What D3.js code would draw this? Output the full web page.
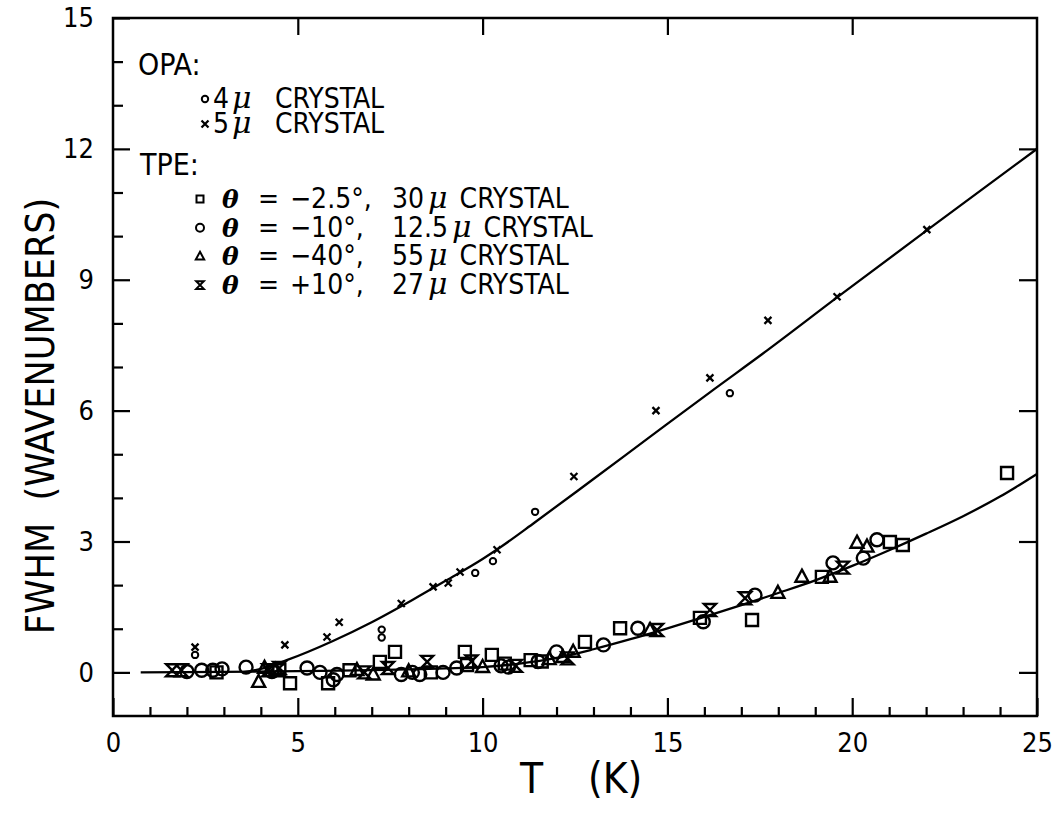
<!DOCTYPE html>
<html><head><meta charset="utf-8">
<script src="https://cdn.jsdelivr.net/npm/d3@7"></script>
<style>
html,body{margin:0;padding:0;background:#fff;}
svg{display:block;}
text{font-family:"Liberation Sans Narrow","DejaVu Sans Condensed","Liberation Sans",sans-serif;fill:#000;}
</style></head>
<body>
<svg id="chart" width="1063" height="817"></svg>
<script>
// ---------------- data ----------------
const xDomain = [0, 25];
const yDomain = [-1, 15];
const xMajorTicks = [0, 5, 10, 15, 20, 25];
const xMinorTicks = [1,2,3,4,6,7,8,9,11,12,13,14,16,17,18,19,21,22,23,24];
const yMajorTicks = [0, 3, 6, 9, 12, 15];
const yMinorTicks = [1,2,4,5,7,8,10,11,13,14];
const xTitleParts = ["T", "(K)"];
const yTitle = "FWHM  (WAVENUMBERS)";

// OPA data
const opa4 = [[2.22,0.40],[7.27,0.98],[7.27,0.80],[9.80,2.28],[10.28,2.55],[11.42,3.68],[16.69,6.40]];
const opa5 = [[2.22,0.58],[4.65,0.63],[5.79,0.81],[6.12,1.15],[7.80,1.58],[8.66,1.96],[9.07,2.05],
              [9.39,2.30],[10.39,2.81],[12.47,4.49],[14.69,6.00],[16.15,6.75],[17.72,8.07],[19.59,8.61],[22.02,10.15]];

// TPE data
const tpeSquare = [[2.80,0.00],[4.50,0.05],[4.79,-0.25],[5.82,-0.25],[6.40,0.05],[7.22,0.24],[7.63,0.47],
                   [8.60,0.00],[9.52,0.47],[9.58,0.17],[10.25,0.40],[10.60,0.20],[11.30,0.28],[11.60,0.25],
                   [12.77,0.70],[13.72,1.01],[15.88,1.25],[17.29,1.20],[19.18,2.19],[21.02,2.99],[21.37,2.92],[24.19,4.57]];
const tpeCircle = [[2.00,0.02],[2.40,0.05],[2.70,0.05],[2.95,0.08],[3.60,0.12],[4.30,0.02],[5.25,0.10],
                   [5.60,0.00],[5.96,-0.17],[6.06,-0.05],[7.80,-0.05],[8.10,0.00],[8.30,-0.05],[8.93,0.00],
                   [9.30,0.10],[10.50,0.15],[10.70,0.12],[11.50,0.25],[12.00,0.47],[13.27,0.63],[14.20,1.01],
                   [15.97,1.16],[17.37,1.77],[19.48,2.51],[20.30,2.62],[20.67,3.04]];
const tpeTriangle = [[3.94,-0.22],[4.10,0.10],[4.40,0.05],[6.60,0.05],[7.04,-0.05],[8.00,0.02],[10.00,0.12],
                     [11.80,0.30],[12.17,0.35],[12.45,0.47],[14.53,0.97],[17.99,1.82],[18.64,2.19],[19.40,2.19],
                     [20.13,2.97],[20.40,2.88]];
const tpeHourglass = [[1.60,0.05],[1.85,0.05],[4.20,0.05],[4.50,0.10],[6.80,0.00],[7.44,0.10],[8.50,0.24],
                      [9.70,0.25],[10.90,0.15],[12.30,0.32],[14.72,0.97],[16.15,1.43],[17.10,1.70],[19.75,2.40]];

// fitted curves (traced)
const fitOPA = [[3.5,0.0],[4.0,0.08],[4.7,0.28],[5.95,0.72],[7.0,1.15],[8.1,1.66],[9.0,2.1],[10.0,2.6],
                [10.5,2.88],[11.4,3.43],[12.9,4.37],[14.5,5.38],[16.15,6.42],[17.7,7.38],[19.6,8.6],[22.0,10.12],[25.0,12.0]];
const fitTPE = [[0.75,0.0],[3,0.01],[5,0.03],[7,0.05],[8,0.07],[9,0.09],[10,0.12],[11,0.20],[12,0.33],[13,0.53],
                [14,0.76],[15,1.01],[16,1.27],[17,1.54],[18,1.82],[19,2.11],[20,2.44],[21,2.80],[22,3.18],[23,3.58],[24,4.03],[25,4.55]];

// legend texts
const opaHeader = "OPA:";
const opaLabels = ["4", "5"];
const tpeHeader = "TPE:";
const tpeAngles = ["\u22122.5\u00B0,", "\u221210\u00B0,", "\u221240\u00B0,", "+10\u00B0,"];
const tpeThick = ["30", "12.5", "55", "27"];

// ---------------- drawing ----------------
const svg = d3.select("#chart");
const W = 1063, H = 817;
const x = d3.scaleLinear().domain(xDomain).range([113, 1037]);
const y = d3.scaleLinear().domain(yDomain).range([716, 18]);

svg.append("rect").attr("width", W).attr("height", H).attr("fill", "#fff");

function styleAxis(g) {
  g.select(".domain").remove();
  g.selectAll(".tick line").attr("stroke", "#000").attr("stroke-width", 2.2);
  g.selectAll("text").attr("font-size", 27).attr("fill", "#000")
    .style("font-family", '"Liberation Sans Narrow","DejaVu Sans Condensed",sans-serif');
}

// bottom axis
svg.append("g").attr("transform", `translate(0,${y(-1)})`)
  .call(d3.axisBottom(x).tickValues(xMinorTicks).tickFormat("").tickSize(-9)).call(styleAxis);
svg.append("g").attr("transform", `translate(0,${y(-1)})`)
  .call(d3.axisBottom(x).tickValues(xMajorTicks).tickFormat(d3.format("d")).tickSize(-18).tickPadding(17)).call(styleAxis);
// top axis
svg.append("g").attr("transform", `translate(0,${y(15)})`)
  .call(d3.axisTop(x).tickValues(xMajorTicks.slice(1, -1)).tickFormat("").tickSize(-17)).call(styleAxis);
// left axis
svg.append("g").attr("transform", `translate(${x(0)},0)`)
  .call(d3.axisLeft(y).tickValues(yMinorTicks).tickFormat("").tickSize(-10)).call(styleAxis);
svg.append("g").attr("transform", `translate(${x(0)},0)`)
  .call(d3.axisLeft(y).tickValues(yMajorTicks).tickFormat(d3.format("d")).tickSize(-17).tickPadding(19)).call(styleAxis);
// right axis
svg.append("g").attr("transform", `translate(${x(25)},0)`)
  .call(d3.axisRight(y).tickValues(yMajorTicks.slice(0, -1)).tickFormat("").tickSize(-18)).call(styleAxis);

// frame
svg.append("rect").attr("x", x(0)).attr("y", y(15))
  .attr("width", x(25) - x(0)).attr("height", y(-1) - y(15))
  .attr("fill", "none").attr("stroke", "#000").attr("stroke-width", 2.5);

// axis titles
const xt = svg.append("text").attr("y", 793).attr("font-size", 42);
xt.append("tspan").attr("x", 520).text(xTitleParts[0]);
xt.append("tspan").attr("x", 588).text(xTitleParts[1]);
svg.append("text").attr("transform", "translate(54,416) rotate(-90)").attr("text-anchor", "middle")
  .attr("font-size", 39).style("white-space", "pre").text(yTitle);

// fitted curves
const line = d3.line().x(d => x(d[0])).y(d => y(d[1])).curve(d3.curveMonotoneX);
svg.append("path").datum(fitOPA).attr("d", line).attr("fill", "none").attr("stroke", "#000").attr("stroke-width", 2.3);
svg.append("path").datum(fitTPE).attr("d", line).attr("fill", "none").attr("stroke", "#000").attr("stroke-width", 2.3);

// symbol shapes
const shapes = {
  square: s => `M${-s},${-s}H${s}V${s}H${-s}Z`,
  circle: s => `M${-s},0A${s},${s} 0 1,0 ${s},0A${s},${s} 0 1,0 ${-s},0Z`,
  triangle: s => `M0,${-s*1.1}L${s},${s*0.75}H${-s}Z`,
  hourglass: s => `M${-s},${-s}H${s}L${-s},${s}H${s}Z`,
  cross: s => `M${-s},${-s}L${s},${s}M${s},${-s}L${-s},${s}`
};

function drawPoints(data, shape, size, sw) {
  svg.append("g").selectAll("path").data(data).join("path")
    .attr("transform", d => `translate(${x(d[0])},${y(d[1])})`)
    .attr("d", shapes[shape](size))
    .attr("fill", "none").attr("stroke", "#000").attr("stroke-width", sw);
}
drawPoints(tpeSquare, "square", 6, 2.4);
drawPoints(tpeCircle, "circle", 6.5, 2.4);
drawPoints(tpeTriangle, "triangle", 6.5, 2.4);
drawPoints(tpeHourglass, "hourglass", 6, 2.4);
drawPoints(opa4, "circle", 3.2, 2);
drawPoints(opa5, "cross", 3.5, 2.3);

// legend
const lg = svg.append("g");
const fs = 28;
lg.append("text").attr("x", 138).attr("y", 75).attr("font-size", 30).text(opaHeader);
const opaShapes = [["circle", 3.2, 2], ["cross", 3.5, 2.3]];
opaLabels.forEach((lab, i) => {
  const by = 108 + i * 25;
  lg.append("path").attr("transform", `translate(205,${by - 9})`).attr("d", shapes[opaShapes[i][0]](opaShapes[i][1]))
    .attr("fill", "none").attr("stroke", "#000").attr("stroke-width", opaShapes[i][2]);
  const t = lg.append("text").attr("x", 213).attr("y", by).attr("font-size", fs);
  t.append("tspan").text(lab);
  t.append("tspan").attr("dx", 3).attr("font-style", "italic").attr("font-family", "DejaVu Serif").attr("font-size", 30).text("\u03BC");
  t.append("tspan").attr("x", 275).text("CRYSTAL");
});
lg.append("text").attr("x", 140).attr("y", 175).attr("font-size", 30).text(tpeHeader);
const tpeShapes = [["square", 3.5], ["circle", 4], ["triangle", 4.2], ["hourglass", 3.8]];
tpeAngles.forEach((ang, i) => {
  const by = 208 + i * 28.7;
  lg.append("path").attr("transform", `translate(200,${by - 9})`).attr("d", shapes[tpeShapes[i][0]](tpeShapes[i][1]))
    .attr("fill", "none").attr("stroke", "#000").attr("stroke-width", 2);
  const t = lg.append("text").attr("y", by).attr("font-size", fs);
  t.append("tspan").attr("x", 222).attr("font-style", "italic").attr("font-family", "DejaVu Serif").attr("font-weight", "bold").attr("font-size", 25).text("\u03B8");
  t.append("tspan").attr("x", 258).text("=");
  t.append("tspan").attr("x", 290).text(ang);
  t.append("tspan").attr("x", 392).text(tpeThick[i]);
  t.append("tspan").attr("dx", 4).attr("font-style", "italic").attr("font-family", "DejaVu Serif").attr("font-size", 30).text("\u03BC");
  t.append("tspan").attr("dx", 12).text("CRYSTAL");
});
</script>
</body></html>
